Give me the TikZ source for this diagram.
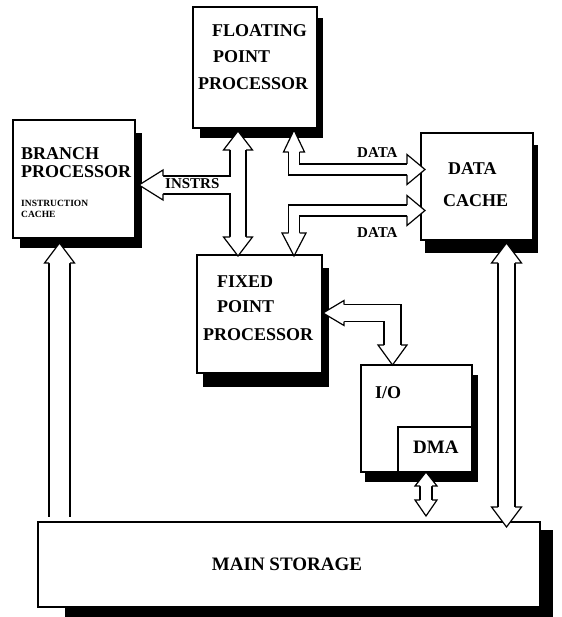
\documentclass[tikz,border=0pt]{standalone}
\usepackage{fontspec}
\setmainfont{Liberation Serif}
\usetikzlibrary{calc}
\newcommand\ahead[5]{%
  \begin{scope}[shift={(#1)}, rotate=#2]
    \fill[white] (0,0) -- (-#4,#3) -- (-#4,-#3) -- cycle;
    \draw[arrline] (-#4,#5) -- (-#4,#3) -- (0,0) -- (-#4,-#3) -- (-#4,-#5);
  \end{scope}}
% box, dx, dy, start of bottom band from left, start of right band from top
\newcommand\shad[5]{%
  \fill ($(#1.south west)+(#4,0)$) rectangle ($(#1.south east)+(#2,#3)$);
  \fill ($(#1.north east)+(0,#5)$) rectangle ($(#1.south east)+(#2,0)$);}
\begin{document}
\begin{tikzpicture}[x=1pt,y=-1pt,
  box/.style={draw, line width=1.5pt, fill=white, inner sep=0pt, outer sep=0pt, anchor=north west},
  lbl/.style={anchor=base west, inner sep=0pt, font=\bfseries\fontsize{18}{18}\selectfont},
  small/.style={anchor=base west, inner sep=0pt, font=\bfseries\fontsize{15}{15}\selectfont},
  tiny/.style={anchor=base west, inner sep=0pt, font=\bfseries\fontsize{9.5}{9.5}\selectfont},
  arrline/.style={line width=1.2pt, line join=miter, line cap=butt},
  shaftout/.style={line width=#1pt+1.2pt, line cap=butt, line join=miter},
  shaftin/.style={white, line width=#1pt-1.2pt, line cap=butt, line join=miter}]
\useasboundingbox (0,0) rectangle (561,617);

% boxes
\node[box, minimum width=124pt, minimum height=121pt] (fpp) at (193,7) {};
\node[box, minimum width=122pt, minimum height=118pt] (br) at (13,120) {};
\node[box, minimum width=112pt, minimum height=107pt] (dc) at (421,133) {};
\node[box, minimum width=125pt, minimum height=118pt] (fxp) at (197,255) {};
\node[box, minimum width=111pt, minimum height=107pt] (io) at (361,365) {};
\node[box, minimum width=74pt, minimum height=45pt] (dma) at (398,427) {};
\node[box, minimum width=502pt, minimum height=85pt] (ms) at (38,522) {};

% shadows
\shad{fpp}{6}{10}{7}{11}
\shad{br}{7}{10}{7}{13}
\shad{dc}{5}{13}{4}{12}
\shad{fxp}{7}{14}{6}{13}
\shad{io}{6}{10}{4}{10}
\shad{ms}{13}{10}{27}{8}

% arrow end points
\coordinate (t1) at ($(br.south west)+(46.5,5)$);
\coordinate (e1) at ($(t1 |- ms.north)+(0,-5)$);
\coordinate (t2a) at ($(fpp.south west)+(45,3)$);
\coordinate (t2b) at ($(t2a |- fxp.north)+(0,1)$);
\coordinate (t3) at ($(br.north east)+(4,65)$);
\coordinate (j3) at (t2a |- t3);
\coordinate (t4a) at ($(fpp.south west)+(101,2)$);
\coordinate (t4b) at ($(dc.north west)+(4,36.5)$);
\coordinate (t5a) at ($(dc.north west)+(4,77.5)$);
\coordinate (t5b) at ($(fxp.north west)+(97,1)$);
\coordinate (t6a) at ($(fxp.north east)+(1,58)$);
\coordinate (t6b) at ($(io.north west)+(31.5,0)$);
\coordinate (t7a) at ($(dma.south west)+(28,0)$);
\coordinate (t7b) at ($(t7a |- ms.north)+(0,-6)$);
\coordinate (t8a) at ($(dc.south west)+(85.5,3)$);
\coordinate (t8b) at ($(t8a |- ms.north)+(0,5)$);

% shafts: outer black
\draw[shaftout=21] ($(t1)+(0,19)$) -- (e1);
\draw[shaftout=16] ($(t2a)+(0,18)$) -- ($(t2b)+(0,-18)$);
\draw[shaftout=18] ($(t3)+(23,0)$) -- (j3);
\draw[shaftout=11] ($(t4a)+(0,21)$) -- (t4a |- t4b) -- ($(t4b)+(-17,0)$);
\draw[shaftout=11] ($(t5a)+(-17,0)$) -- (t5b |- t5a) -- ($(t5b)+(0,-22)$);
\draw[shaftout=17] ($(t6a)+(20,0)$) -- (t6b |- t6a) -- ($(t6b)+(0,-19)$);
\draw[shaftout=12] ($(t7a)+(0,13)$) -- ($(t7b)+(0,-15)$);
\draw[shaftout=17] ($(t8a)+(0,19)$) -- ($(t8b)+(0,-19)$);
% shafts: inner white
\draw[shaftin=21] ($(t1)+(0,19)$) -- (e1);
\draw[shaftin=16] ($(t2a)+(0,18)$) -- ($(t2b)+(0,-18)$);
\draw[shaftin=18] ($(t3)+(23,0)$) -- (j3);
\draw[shaftin=11] ($(t4a)+(0,21)$) -- (t4a |- t4b) -- ($(t4b)+(-17,0)$);
\draw[shaftin=11] ($(t5a)+(-17,0)$) -- (t5b |- t5a) -- ($(t5b)+(0,-22)$);
\draw[shaftin=17] ($(t6a)+(20,0)$) -- (t6b |- t6a) -- ($(t6b)+(0,-19)$);
\draw[shaftin=12] ($(t7a)+(0,13)$) -- ($(t7b)+(0,-15)$);
\draw[shaftin=17] ($(t8a)+(0,19)$) -- ($(t8b)+(0,-19)$);

% heads: tip, angle, half width, length, shaft half width
\ahead{t1}{90}{15}{20}{10.5}
\ahead{t2a}{90}{14.5}{19}{8}
\ahead{t2b}{-90}{14.5}{19}{8}
\ahead{t3}{180}{15}{24}{9}
\ahead{t4a}{90}{10.5}{22}{5.5}
\ahead{t4b}{0}{15}{18}{5.5}
\ahead{t5a}{0}{15}{18}{5.5}
\ahead{t5b}{-90}{12}{23}{5.5}
\ahead{t6a}{180}{12.5}{21}{8.5}
\ahead{t6b}{-90}{14.5}{20}{8.5}
\ahead{t7a}{90}{11}{14}{6}
\ahead{t7b}{-90}{11}{16}{6}
\ahead{t8a}{90}{15}{20}{8.5}
\ahead{t8b}{-90}{15}{20}{8.5}

% texts
\node[lbl] (fpp1) at ($(fpp.north west)+(19,30)$) {FLOATING};
\node[lbl] (fpp2) at ($(fpp.north west)+(20,56)$) {POINT};
\node[lbl] (fpp3) at ($(fpp.north west)+(5,83)$) {PROCESSOR};
\node[lbl] (br1) at ($(br.north west)+(8,40)$) {BRANCH};
\node[lbl] (br2) at ($(br.north west)+(8,58)$) {PROCESSOR};
\node[tiny] (br3) at ($(br.north west)+(8,87)$) {INSTRUCTION};
\node[tiny] (br4) at ($(br.north west)+(8,98)$) {CACHE};
\node[lbl] (dc1) at ($(dc.north west)+(27,42)$) {DATA};
\node[lbl] (dc2) at ($(dc.north west)+(22,74)$) {CACHE};
\node[lbl] (fxp1) at ($(fxp.north west)+(20,32)$) {FIXED};
\node[lbl] (fxp2) at ($(fxp.north west)+(20,57)$) {POINT};
\node[lbl] (fxp3) at ($(fxp.north west)+(6,85)$) {PROCESSOR};
\node[lbl] (io1) at ($(io.north west)+(14,33)$) {I/O};
\node[lbl, font=\bfseries\fontsize{19}{19}\selectfont] (dma1) at ($(dma.north west)+(15,26)$) {DMA};
\node[anchor=base, inner sep=0pt, font=\bfseries\fontsize{19}{19}\selectfont] (ms1) at (287,570) {MAIN STORAGE};
\node[small] (lb1) at (357,158) {DATA};
\node[small] (lb2) at (357,237) {DATA};
\node[small] (lb3) at (165,189) {INSTRS};
\end{tikzpicture}
\end{document}
